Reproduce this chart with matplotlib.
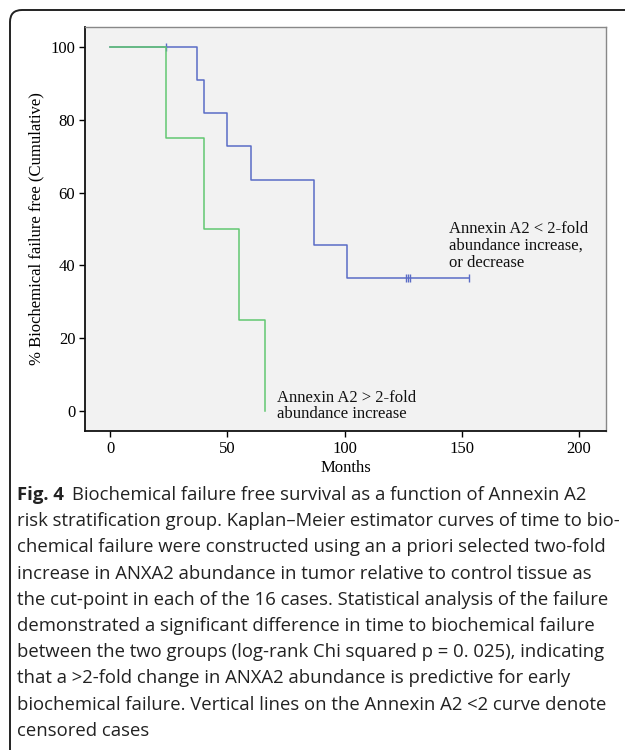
import matplotlib
matplotlib.use("Agg")
import matplotlib.pyplot as plt
from matplotlib.path import Path
from matplotlib.patches import PathPatch

# Kaplan-Meier steps
months_low = [0, 24, 37, 40, 50, 60, 87, 101, 153]
surv_low = [100, 100, 90.9, 81.8, 72.7, 63.6, 45.5, 36.4, 36.4]
censor_low_months = [24, 126, 127, 128, 153]
censor_low_surv = [100, 36.4, 36.4, 36.4, 36.4]

months_high = [0, 24, 40, 55, 66]
surv_high = [100, 75, 50, 25, 0]

x_ticks = [0, 50, 100, 150, 200]
y_ticks = [0, 20, 40, 60, 80, 100]

label_low = "Annexin A2 < 2-fold\nabundance increase,\nor decrease"
label_high = "Annexin A2 > 2-fold\nabundance increase"

caption_bold = "Fig. 4"
caption_lines = [
    "Biochemical failure free survival as a function of Annexin A2",
    "risk stratification group. Kaplan\u2013Meier estimator curves of time to bio-",
    "chemical failure were constructed using an a priori selected two-fold",
    "increase in ANXA2 abundance in tumor relative to control tissue as",
    "the cut-point in each of the 16 cases. Statistical analysis of the failure",
    "demonstrated a significant difference in time to biochemical failure",
    "between the two groups (log-rank Chi squared p = 0. 025), indicating",
    "that a >2-fold change in ANXA2 abundance is predictive for early",
    "biochemical failure. Vertical lines on the Annexin A2 <2 curve denote",
    "censored cases",
]

BLUE = "#5a6cc6"
GREEN = "#62c872"
SERIF = "Liberation Serif"
SANS = "Open Sans"

fig = plt.figure(figsize=(6.25, 7.5), dpi=100)
ax = fig.add_axes([85 / 625, 1 - 431 / 750, (606 - 85) / 625, (431 - 27) / 750])
ax.set_facecolor("#f2f2f2")

ax.step(months_low, surv_low, where="post", color=BLUE, lw=1.1)
ax.plot(censor_low_months, censor_low_surv, ls="none", marker="|",
        markersize=6, mew=1.0, color=BLUE)
ax.step(months_high, surv_high, where="post", color=GREEN, lw=1.1)

ax.text(144.5, 52.3, label_low, family=SERIF, fontsize=12, va="top",
        ha="left", linespacing=1.08, color="#111")
ax.text(71, 5.9, label_high, family=SERIF, fontsize=12, va="top",
        ha="left", linespacing=1.08, color="#111")

ax.set_xlim(-10.7, 211.5)
ax.set_ylim(-5.5, 105.5)
ax.set_xticks(x_ticks)
ax.set_yticks(y_ticks)
ax.tick_params(direction="out", length=4, width=1, labelsize=12, pad=3)
for lab in ax.get_xticklabels() + ax.get_yticklabels():
    lab.set_family(SERIF)
ax.set_xlabel("Months", family=SERIF, fontsize=12, labelpad=2)
ax.set_ylabel("% Biochemical failure free (Cumulative)", family=SERIF,
              fontsize=12, labelpad=4)
for side in ["left", "bottom"]:
    ax.spines[side].set_color("#111")
    ax.spines[side].set_linewidth(1.3)
for side in ["top", "right"]:
    ax.spines[side].set_color("#888")
    ax.spines[side].set_linewidth(1.0)

# outer frame with rounded top-left corner (coordinates in inches)
r = 0.12
x0, ytop = 0.10, 7.5 - 0.10
verts = [(x0, 0), (x0, ytop - r), (x0, ytop), (x0 + r, ytop), (6.25, ytop)]
codes = [Path.MOVETO, Path.LINETO, Path.CURVE3, Path.CURVE3, Path.LINETO]
frame = PathPatch(Path(verts, codes), transform=fig.dpi_scale_trans,
                  fill=False, edgecolor="#222", lw=1.4)
fig.add_artist(frame)

# caption
cap_size = 13.3
x_cap = 17 / 625
y_first = 1 - 495 / 750
step = 26.2 / 750
fig.canvas.draw()
renderer = fig.canvas.get_renderer()
tb = fig.text(x_cap, y_first, caption_bold, family=SANS, fontsize=cap_size,
              fontweight="bold", va="center", ha="left", color="#222")
bb = tb.get_window_extent(renderer)
x_rest = (bb.x1 + 8) / fig.bbox.width
for i, line in enumerate(caption_lines):
    x = x_rest if i == 0 else x_cap
    fig.text(x, y_first - i * step, line, family=SANS, fontsize=cap_size,
             va="center", ha="left", color="#222")

fig.savefig("out.png", dpi=100)
